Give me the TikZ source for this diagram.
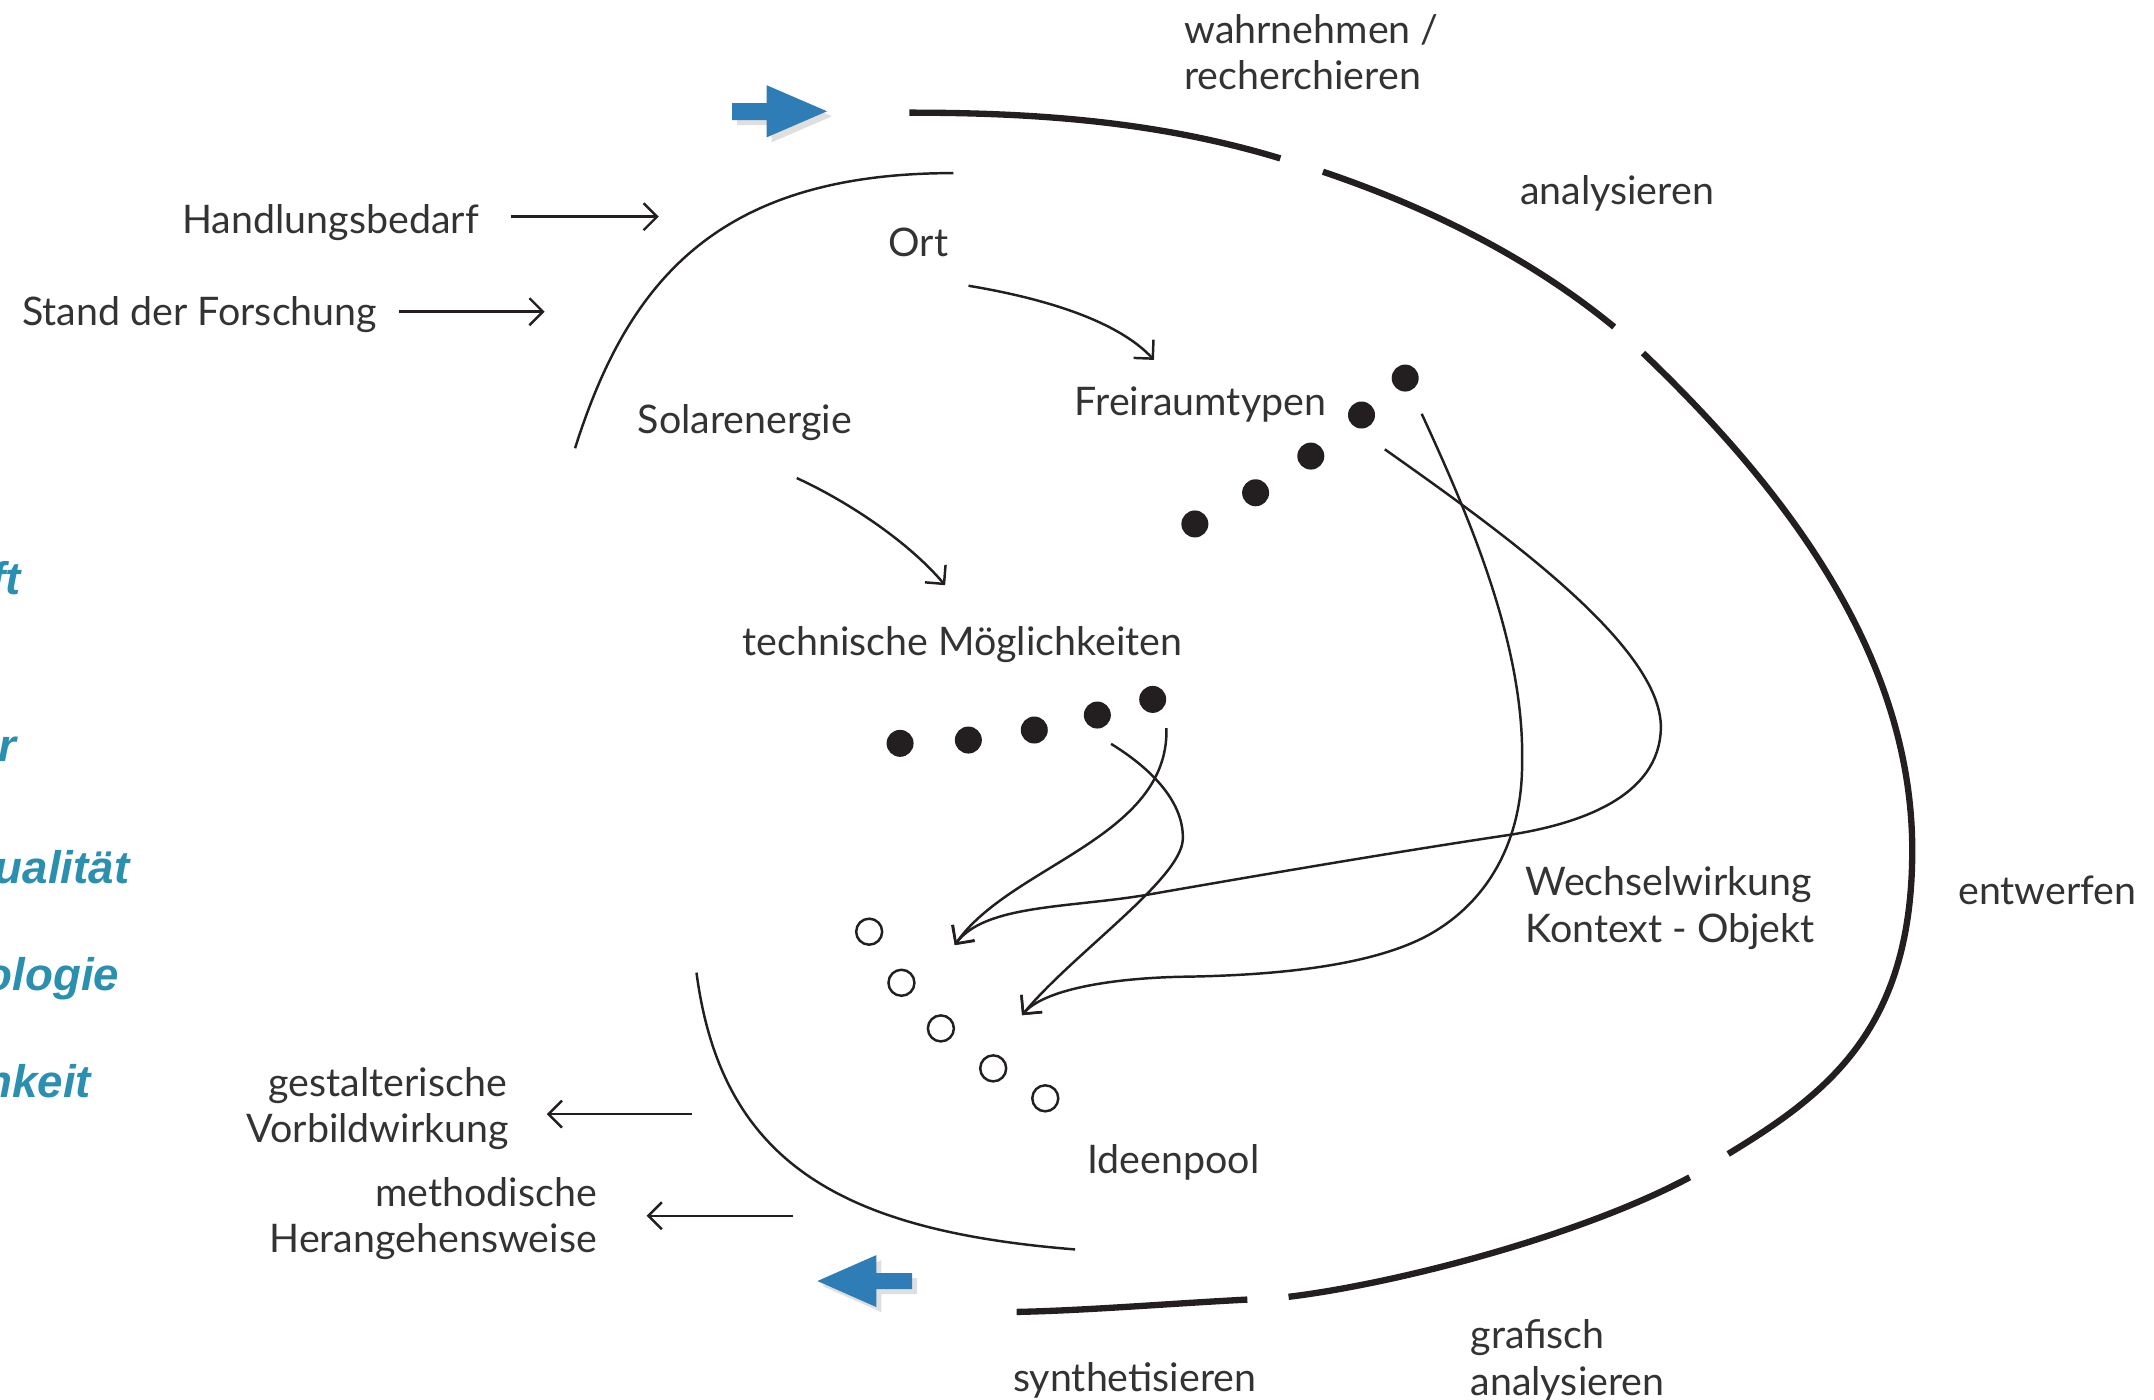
\documentclass[tikz,border=0pt]{standalone}
\usepackage{fontspec}
\setmainfont{Lato}
\newfontfamily\termfont{Liberation Sans}
\usetikzlibrary{arrows.meta, shadows}
\definecolor{txtgray}{HTML}{333333}
\definecolor{ink}{HTML}{231F20}
\definecolor{flowblue}{HTML}{2E7DB6}
\definecolor{termblue}{HTML}{2B8FB0}

\begin{document}
\begin{tikzpicture}[x=0.13737mm,y=-0.13737mm,
  lbl/.style={inner sep=0pt,text=txtgray,font=\fontsize{11.2}{13.4}\selectfont},
  term/.style={inner sep=0pt,anchor=base east,text=termblue,font=\termfont\bfseries\itshape\fontsize{13}{15}\selectfont},
  loopline/.style={line width=1.8pt,draw=ink},
  fine/.style={line width=0.7pt,draw=ink},
  link/.style={fine,-{Straight Barb[length=1.35mm,width=2.7mm]}},
  spot/.style={circle,fill=ink,inner sep=0pt,minimum size=2.7mm},
  ring/.style={circle,draw=ink,line width=0.7pt,inner sep=0pt,minimum size=2.6mm},
  bigarrow/.style={fill=flowblue,drop shadow={opacity=0.25,shadow xshift=0.5mm,shadow yshift=-0.5mm}}]
\useasboundingbox (0,0) rectangle (1568,1019);
\clip (0,0) rectangle (1568,1019);

\node[term] (termA) at (15.8,432.9) {ft};
\node[term] (termB) at (12.1,554) {r};
\node[term] (termC) at (94.6,643) {ualität};
\node[term] (termD) at (87.4,721) {ologie};
\node[term] (termE) at (66.7,799) {nkeit};

\node[lbl,anchor=base west] (wahr) at (861.6,31.5) {wahrnehmen /};
\node[lbl,anchor=base west] (rech) at (861.6,65.5) {recherchieren};
\node[lbl,anchor=base west] (anal) at (1106,148.5) {analysieren};
\node[lbl,anchor=base west] (entw) at (1425,658.5) {entwerfen};
\node[lbl,anchor=base west] (graf) at (1070,981.3) {grafisch};
\node[lbl,anchor=base west] (grafb) at (1070,1015.5) {analysieren};
\node[lbl,anchor=base west] (synth) at (737,1013) {synthetisieren};

\node[lbl,anchor=base east] (hand) at (349,170) {Handlungsbedarf};
\node[lbl,anchor=base east] (stand) at (275,236.6) {Stand der Forschung};
\node[lbl,anchor=base west] (ort) at (646.4,186.4) {Ort};
\node[lbl,anchor=base west] (frei) at (782,302.7) {Freiraumtypen};
\node[lbl,anchor=base west] (solar) at (463.7,315.3) {Solarenergie};
\node[lbl,anchor=base west] (tech) at (540,477) {technische Möglichkeiten};
\node[lbl,anchor=base west] (wech) at (1110,652) {Wechselwirkung};
\node[lbl,anchor=base west] (kont) at (1110,686) {Kontext - Objekt};
\node[lbl,anchor=base west] (pool) at (791,854) {Ideenpool};
\node[lbl,anchor=base east] (gest) at (369.4,798) {gestalterische};
\node[lbl,anchor=base east] (vorb) at (371,832) {Vorbildwirkung};
\node[lbl,anchor=base east] (meth) at (434.9,878.4) {methodische};
\node[lbl,anchor=base east] (hera) at (435,912) {Herangehensweise};

\node[spot] (f1) at (1022.9,275.2) {};
\node[spot] (f2) at (991.1,302.1) {};
\node[spot] (f3) at (954.2,332) {};
\node[spot] (f4) at (914,358.7) {};
\node[spot] (f5) at (869.8,381.4) {};

\node[spot] (t1) at (655.2,541.1) {};
\node[spot] (t2) at (704.9,538.7) {};
\node[spot] (t3) at (752.9,531.4) {};
\node[spot] (t4) at (798.8,520.5) {};
\node[spot] (t5) at (839.1,509.1) {};

\node[ring] (i1) at (632.7,678.2) {};
\node[ring] (i2) at (656.2,715.4) {};
\node[ring] (i3) at (684.9,748.6) {};
\node[ring] (i4) at (723,777.7) {};
\node[ring] (i5) at (760.9,799.5) {};

\draw[loopline] (662,82) .. controls (752,82) and (842,88) .. (932,115.3);
\draw[loopline] (963,125) .. controls (1039,150.7) and (1113,187) .. (1175,238);
\draw[loopline] (1196,257) .. controls (1290,347) and (1392,470) .. (1392,619)
  .. controls (1392,749) and (1330.7,795.8) .. (1258,840);
\draw[loopline] (1230,857) .. controls (1151,899.3) and (1017,934.4) .. (938,944);
\draw[loopline] (908,946) .. controls (850,949) and (790,954) .. (740,955);

\draw[fine] (694,126) .. controls (524,126) and (457.6,202.8) .. (418.6,326.3);
\draw[fine] (507,708) .. controls (525.2,846.6) and (612.6,895.9) .. (782.6,909.5);

\fill[bigarrow] (533,75) -- (558,75) -- (558,62) -- (602,81) -- (558,100) -- (558,87.4) -- (533,87.4) -- cycle;
\fill[bigarrow] (664,926.7) -- (638,926.7) -- (638,913.6) -- (595,932.5) -- (638,951.5) -- (638,938.4) -- (664,938.4) -- cycle;

\coordinate (handTip) at (479.6,157.7);
\coordinate (standTip) at (396.5,226.9);
\coordinate (gestFrom) at (503.8,811);
\coordinate (methFrom) at (577,885);
\coordinate (poolA) at (695,688);
\coordinate (poolB) at (744,739);

\draw[link,shorten <=3.2mm] (hand.east |- handTip) -- (handTip);
\draw[link,shorten <=2.1mm] (stand.east |- standTip) -- (standTip);
\draw[link,shorten >=3.7mm] (gestFrom) -- (gestFrom -| vorb.east);
\draw[link,shorten >=4.9mm] (methFrom) -- (methFrom -| hera.east);

\draw[link] ([shift={(58.6,21.6)}]ort.base west) .. controls +(60,10) and +(-25,-27) .. ([shift={(58,-40.7)}]frei.base west);
\draw[link] ([shift={(116.3,32.7)}]solar.base west) .. controls +(35,16) and +(-28,-33) .. ([shift={(148,-51)}]tech.base west);

\draw[link] ([shift={(10,21)}]t5.center) .. controls +(2,80) and +(40,-58) .. (poolA);
\draw[link] ([shift={(10,21)}]t4.center) .. controls +(31,19) and +(1,-26) .. (861,611)
  .. controls +(-1,29) and +(36,-44) .. (poolB);
\draw[link] ([shift={(12,26)}]f1.center) .. controls +(35,76) and +(2,-86) .. (1108,556)
  .. controls +(0,54) and +(44,-25) .. (1041,680)
  .. controls +(-41,23) and +(69,-1) .. (861,711)
  .. controls +(-51,1) and +(16,-19) .. (poolB);
\draw[link] ([shift={(17,25)}]f2.center) .. controls +(82,58) and +(1,-60) .. (1209,530)
  .. controls +(-1,50) and +(53,-8) .. (1097,608)
  .. controls +(-87,13) and +(63,-11) .. (837,651)
  .. controls +(-57,10) and +(22,-30) .. (poolA);
\end{tikzpicture}
\end{document}
